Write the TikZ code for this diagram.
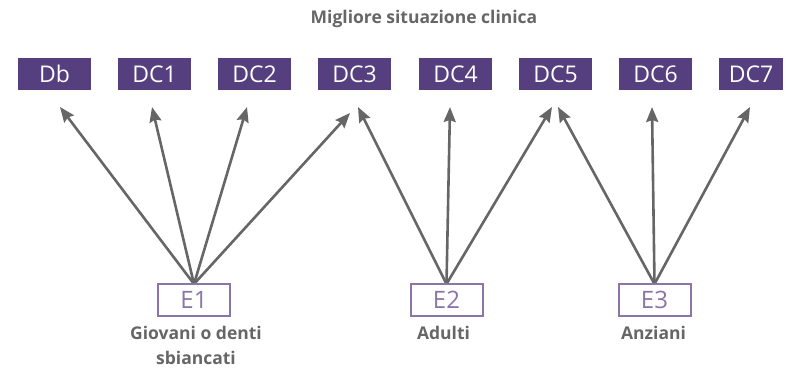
\documentclass[tikz,border=0pt]{standalone}
\usepackage{fontspec}
\setmainfont{Open Sans}
\usetikzlibrary{arrows.meta}
\definecolor{boxpurple}{HTML}{553F7F}
\definecolor{lightpurple}{HTML}{8C74A8}
\definecolor{txtgray}{HTML}{666666}
\definecolor{arrgray}{HTML}{666666}
\tikzset{
  topbox/.style={fill=boxpurple, text=white, minimum width=73pt, minimum height=32pt, inner sep=0pt, font=\fontsize{23}{23}\selectfont},
  ebox/.style={draw=lightpurple, line width=2pt, fill=white, text=lightpurple, minimum width=72pt, minimum height=32pt, inner sep=0pt, font=\fontsize{24}{24}\selectfont},
  lbl/.style={text=txtgray, font=\fontsize{17.5}{25}\selectfont\bfseries, align=center, inner sep=0pt},
  arr/.style={draw=arrgray, line width=2.6pt, -{Stealth[length=15pt,width=12pt,inset=2pt]}}
}
\begin{document}
\begin{tikzpicture}[x=1pt,y=-1pt]
\useasboundingbox (0,0) rectangle (787,369);
\node[lbl, anchor=base] (title) at (424,24) {Migliore situazione clinica};
\node[topbox] (Db) at (54.5,74) {Db};
\node[topbox] (DC1) at (154.5,74) {DC1};
\node[topbox] (DC2) at (254.5,74) {DC2};
\node[topbox] (DC3) at (354.5,74) {DC3};
\node[topbox] (DC4) at (455.5,74) {DC4};
\node[topbox] (DC5) at (555.5,74) {DC5};
\node[topbox] (DC6) at (655.5,74) {DC6};
\node[topbox, minimum width=64pt] (DC7) at (751,74) {DC7};
% arrow tips
\coordinate (tDb) at (60,107);
\coordinate (tDC1) at (152,107);
\coordinate (tDC2) at (247,107);
\coordinate (tDCthreeA) at (350,113);
\coordinate (tDCthreeB) at (358,107);
\coordinate (tDC4) at (450,107);
\coordinate (tDCfiveA) at (552,107);
\coordinate (tDCfiveB) at (558,107);
\coordinate (tDC6) at (652,107);
\coordinate (tDC7) at (750,107);
\coordinate (s1) at (194,284);
\coordinate (s2) at (446.5,284);
\coordinate (s3) at (654.5,284);
\draw[arr] (s1) -- (tDb);
\draw[arr] (s1) -- (tDC1);
\draw[arr] (s1) -- (tDC2);
\draw[arr] (s1) -- (tDCthreeA);
\draw[arr] (s2) -- (tDCthreeB);
\draw[arr] (s2) -- (tDC4);
\draw[arr] (s2) -- (tDCfiveA);
\draw[arr] (s3) -- (tDCfiveB);
\draw[arr] (s3) -- (tDC6);
\draw[arr] (s3) -- (tDC7);
\node[ebox] (E1) at (194,300) {E1};
\node[ebox] (E2) at (446.5,300) {E2};
\node[ebox] (E3) at (654.5,300) {E3};
\node[lbl, anchor=base] (l1) at (196,364) {Giovani o denti\\sbiancati};
\node[lbl, anchor=base] (l2) at (443.5,339) {Adulti};
\node[lbl, anchor=base] (l3) at (653.5,339) {Anziani};
\end{tikzpicture}
\end{document}
